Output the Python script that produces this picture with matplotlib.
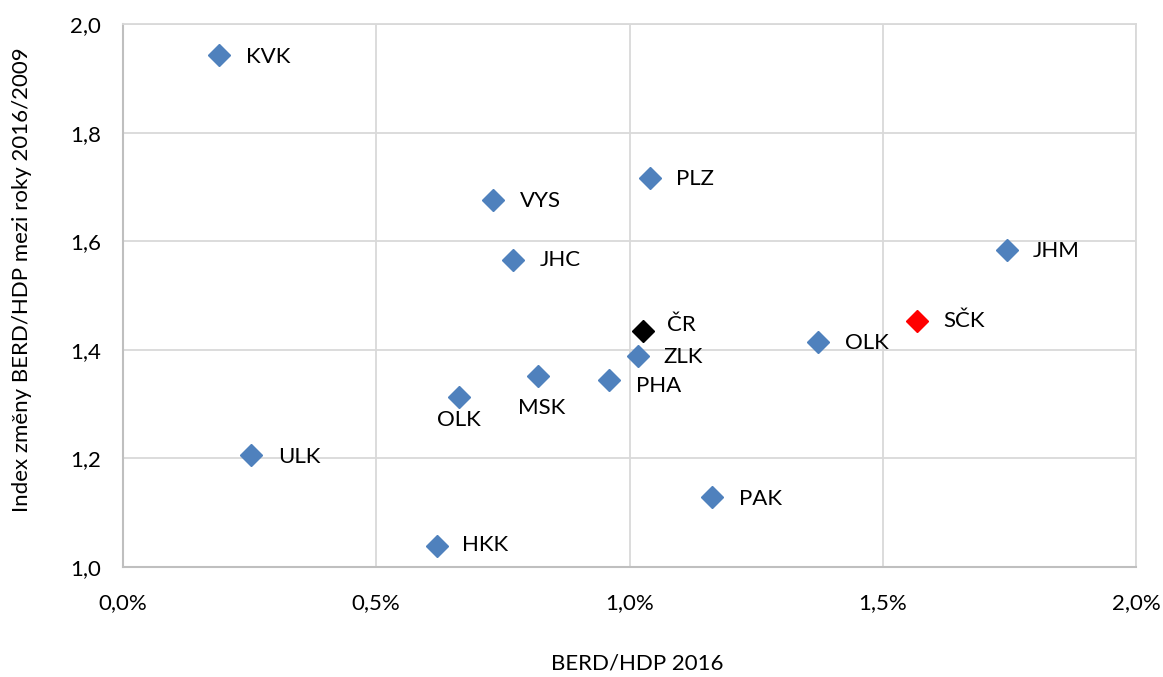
import matplotlib.pyplot as plt
from matplotlib.ticker import FuncFormatter, MultipleLocator

plt.rcParams['font.family'] = ['Lato', 'DejaVu Sans']

# BERD/HDP 2016 (%) and index 2016/2009
regions = ['KVK', 'VYS', 'PLZ', 'JHC', 'JHM', 'ČR', 'ZLK', 'SČK', 'OLK', 'PHA', 'MSK', 'OLK', 'ULK', 'PAK', 'HKK']
berd = [0.19, 0.73, 1.04, 0.77, 1.745, 1.027, 1.017, 1.568, 1.372, 0.96, 0.819, 0.663, 0.253, 1.163, 0.62]
index = [1.943, 1.676, 1.716, 1.565, 1.584, 1.435, 1.389, 1.453, 1.414, 1.344, 1.352, 1.313, 1.206, 1.129, 1.039]
colors = ['#4F81BD'] * 5 + ['#000000', '#4F81BD', '#FF0000'] + ['#4F81BD'] * 7

# label offsets in pixels (dx, dy), with horizontal alignment
offsets = {
    0: (27, -2, 'left'), 1: (27, -1, 'left'), 2: (26, -1, 'left'), 3: (27, 0, 'left'),
    4: (26, -1, 'left'), 5: (24, 6, 'left'), 6: (25, -1, 'left'), 7: (26, 0, 'left'),
    8: (27, -1, 'left'), 9: (27, -6, 'left'), 10: (4, -32, 'center'), 11: (0, -23, 'center'),
    12: (27, -2, 'left'), 13: (27, -2, 'left'), 14: (25, 1, 'left'),
}

FS = 16

fig = plt.figure(figsize=(11.63, 6.77), dpi=100)
ax = fig.add_axes([123 / 1163, 1 - 567 / 677, (1136 - 123) / 1163, (567 - 24) / 677])

for i in range(len(regions)):
    ax.plot(berd[i], index[i], marker='D', markersize=11.5, color=colors[i], linestyle='none', zorder=3)
    dx, dy, ha = offsets[i]
    ax.annotate(regions[i], (berd[i], index[i]), xytext=(dx, dy), textcoords='offset pixels',
                ha=ha, va='center', fontsize=FS, color='black')

ax.set_xlim(0, 2.0)
ax.set_ylim(1.0, 2.0)
ax.xaxis.set_major_locator(MultipleLocator(0.5))
ax.yaxis.set_major_locator(MultipleLocator(0.2))
ax.xaxis.set_major_formatter(FuncFormatter(lambda v, p: ('%.1f%%' % v).replace('.', ',')))
ax.yaxis.set_major_formatter(FuncFormatter(lambda v, p: ('%.1f' % v).replace('.', ',')))
ax.tick_params(length=0, labelsize=FS)
ax.tick_params(axis='x', pad=19)
ax.tick_params(axis='y', pad=16)
ax.grid(True, color='#D9D9D9', linewidth=1.3, zorder=0)
ax.set_axisbelow(True)
for s in ['top', 'right']:
    ax.spines[s].set_color('#D9D9D9')
    ax.spines[s].set_linewidth(1.3)
for s in ['left', 'bottom']:
    ax.spines[s].set_color('#BFBFBF')
    ax.spines[s].set_linewidth(1.5)

ax.set_xlabel('BERD/HDP 2016', fontsize=FS)
ax.set_ylabel('Index změny BERD/HDP mezi roky 2016/2009', fontsize=FS)
ax.xaxis.set_label_coords((637 - 123) / 1013, -(664 - 567) / 543)
ax.yaxis.set_label_coords(-(123 - 22) / 1013, (567 - 280) / 543)
ax.xaxis.label.set_va('center')
ax.yaxis.label.set_va('center')

fig.savefig('out.png', dpi=100)
